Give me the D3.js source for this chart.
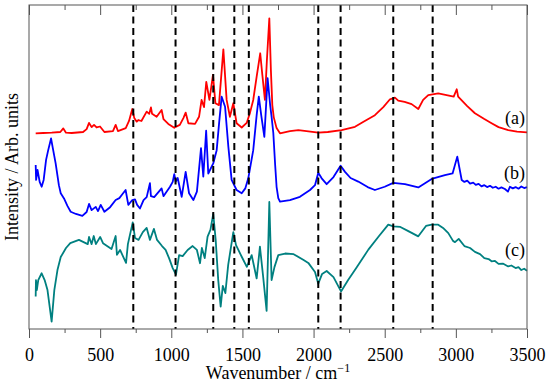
<!DOCTYPE html>
<html>
<head>
<meta charset="utf-8">
<script src="https://cdn.jsdelivr.net/npm/d3@7"></script>
<style>
body { margin: 0; background: #fff; }
</style>
</head>
<body>
<div id="chart"></div>
<script>
// spectra: [wavenumber, intensity (arb.)]
var specA = [
  [47,60.4],[100,60.5],[160,60.6],[220,60.8],[241,61.9],[260,60.6],[300,60.5],[380,60.8],
  [405,61.7],[422,63.6],[440,62.3],[457,63.0],[475,62.2],[499,62.5],[530,60.8],[590,61.1],
  [609,63.0],[625,61.1],[680,62.0],[703,64.2],[726,67.9],[740,65.1],[757,64.0],[768,64.5],
  [790,64.2],[827,67.1],[845,66.4],[857,68.4],[865,66.4],[897,65.5],[932,67.6],[945,64.8],
  [979,63.3],[1021,62.1],[1031,62.4],[1060,63.0],[1085,65.1],[1101,66.8],[1120,63.5],
  [1167,63.3],[1195,65.5],[1213,70.7],[1230,68.5],[1246,76.3],[1268,70.7],[1293,78.4],
  [1310,69.7],[1335,69.1],[1366,86.3],[1389,70.7],[1412,65.5],[1436,69.7],[1459,63.5],
  [1495,62.2],[1530,63.6],[1553,66.7],[1576,70.7],[1600,77.9],[1625,85.1],[1640,78.4],
  [1658,70.7],[1672,83.0],[1689,95.9],[1700,79.9],[1710,69.1],[1720,65.4],[1740,62.0],
  [1764,60.4],[1834,61.1],[1893,61.4],[1950,61.1],[2033,60.6],[2100,60.8],[2197,61.4],
  [2291,62.4],[2360,64.2],[2431,66.0],[2490,68.5],[2537,70.9],[2572,71.4],[2595,70.5],
  [2640,70.1],[2689,69.4],[2736,67.9],[2770,70.7],[2806,72.2],[2876,72.7],[2935,72.2],
  [2985,71.7],[3006,74.0],[3016,71.7],[3080,68.8],[3134,66.6],[3200,64.8],[3251,63.5],
  [3300,62.3],[3368,61.4],[3430,60.9],[3500,60.7]
];

var specB = [
  [47,50.6],[50,46.0],[60,49.1],[75,45.4],[89,43.9],[103,46.0],[120,52.2],[135,55.2],
  [155,58.8],[170,55.2],[187,51.2],[210,44.4],[223,41.9],[246,40.3],[270,38.0],[293,36.2],
  [330,35.5],[375,34.9],[405,36.1],[422,38.6],[440,36.7],[469,37.7],[485,36.4],[504,38.3],
  [530,36.2],[570,37.6],[609,39.8],[635,40.4],[656,41.6],[679,42.9],[698,38.3],[726,39.8],
  [745,40.0],[760,38.3],[780,37.2],[805,39.8],[827,40.7],[850,45.0],[857,41.0],[880,40.7],
  [932,43.4],[945,41.0],[991,43.9],[1010,45.4],[1021,47.8],[1031,45.5],[1045,46.6],
  [1073,40.8],[1101,48.5],[1125,41.9],[1155,39.8],[1180,42.4],[1209,55.8],[1225,47.0],
  [1245,61.2],[1260,48.0],[1295,51.1],[1319,55.2],[1337,64.0],[1354,71.7],[1378,68.6],
  [1401,56.3],[1424,46.0],[1459,42.9],[1495,41.9],[1520,43.4],[1541,46.5],[1576,55.2],
  [1600,66.0],[1615,71.7],[1632,66.0],[1654,59.3],[1677,77.4],[1695,69.1],[1705,65.5],
  [1717,60.5],[1730,50.6],[1740,43.9],[1752,40.4],[1764,39.3],[1834,39.8],[1904,40.8],
  [1975,42.9],[2010,44.4],[2033,48.2],[2057,46.5],[2092,44.7],[2140,46.9],[2190,50.4],
  [2221,48.5],[2260,46.6],[2314,45.5],[2380,43.8],[2431,42.9],[2500,43.9],[2560,45.1],
  [2642,44.7],[2736,43.7],[2830,46.3],[2923,47.5],[2977,48.0],[3010,53.2],[3041,46.0],
  [3060,45.4],[3080,45.8],[3100,44.9],[3122,45.2],[3140,44.5],[3160,44.8],[3180,44.0],
  [3200,44.4],[3220,43.8],[3240,44.2],[3260,43.6],[3280,43.9],[3300,43.3],[3320,43.7],
  [3345,43.2],[3366,42.4],[3380,43.9],[3400,43.4],[3420,43.8],[3440,43.3],[3460,44.0],
  [3480,43.5],[3500,43.8]
];

var specC = [
  [47,10.0],[49,15.1],[55,12.0],[65,15.1],[89,17.2],[110,15.1],[130,12.0],[159,2.3],
  [178,12.0],[200,18.2],[223,22.2],[260,25.0],[290,26.5],[351,27.5],[413,26.2],[422,28.4],
  [440,26.2],[455,28.7],[470,26.2],[500,28.4],[520,26.5],[580,24.7],[609,28.7],[618,22.9],
  [640,24.4],[660,22.5],[682,20.4],[695,26.2],[729,32.9],[745,28.1],[770,27.5],[800,29.9],
  [827,31.2],[850,27.5],[878,30.9],[900,27.5],[935,25.6],[960,24.4],[985,21.8],[1010,18.8],
  [1033,16.8],[1055,22.8],[1080,22.5],[1115,24.4],[1150,25.6],[1180,24.4],[1202,20.3],
  [1215,25.0],[1235,21.9],[1255,28.5],[1275,30.6],[1295,35.5],[1312,27.5],[1330,15.1],
  [1347,6.9],[1362,13.3],[1380,11.1],[1400,19.8],[1436,29.9],[1455,25.9],[1495,22.3],
  [1531,19.2],[1565,22.8],[1600,15.6],[1623,25.4],[1645,16.4],[1670,5.6],[1689,39.2],
  [1705,15.1],[1725,19.1],[1752,22.8],[1800,23.3],[1860,23.1],[1930,21.3],[1963,20.4],
  [2010,17.6],[2033,14.0],[2060,17.0],[2092,17.9],[2140,16.0],[2193,11.6],[2244,15.2],
  [2300,18.8],[2385,24.5],[2460,28.7],[2525,32.2],[2560,31.7],[2610,31.5],[2666,30.2],
  [2736,28.6],[2790,31.8],[2830,32.2],[2876,32.2],[2910,31.2],[2947,29.6],[2980,27.2],
  [2994,26.8],[3020,27.8],[3060,25.6],[3100,25.0],[3134,23.8],[3170,23.1],[3200,21.9],
  [3230,21.6],[3251,20.9],[3275,21.0],[3300,20.1],[3330,20.2],[3368,19.3],[3390,19.6],
  [3420,18.8],[3440,19.1],[3460,18.2],[3480,18.6],[3500,18.0]
];

var seriesNames = ["(a)", "(b)", "(c)"];
var seriesColors = ["#ff0000", "#0000ff", "#008080"];

// marked band positions (dashed lines)
var bands = [733, 1030, 1295, 1443, 1545, 2033, 2190, 2560, 2837];

var majorTicks = [0, 500, 1000, 1500, 2000, 2500, 3000, 3500];
var minorTicks = [250, 750, 1250, 1750, 2250, 2750, 3250];

var serif = "'Liberation Serif', Tinos, 'Times New Roman', serif";

var margin = {top: 5, right: 23, bottom: 57, left: 29},
    width = 550 - margin.left - margin.right,
    height = 386 - margin.top - margin.bottom;

var x = d3.scaleLinear().domain([0, 3500]).range([0, width]);
var y = d3.scaleLinear().domain([0, 100]).range([height, 0]);

var line = d3.line()
    .x(function(d) { return x(d[0]); })
    .y(function(d) { return y(d[1]); });

var svg = d3.select("#chart").append("svg")
    .attr("width", 550)
    .attr("height", 386)
    .append("g")
    .attr("transform", "translate(" + margin.left + "," + margin.top + ")");

var spectra = [specA, specB, specC];

spectra.forEach(function(s, i) {
    svg.append("path")
        .datum(s)
        .attr("fill", "none")
        .attr("stroke", seriesColors[i])
        .attr("stroke-width", 1.8)
        .attr("stroke-linejoin", "round")
        .attr("d", line);
});

// dashed band markers
svg.selectAll(".band")
    .data(bands)
    .enter().append("line")
    .attr("class", "band")
    .attr("x1", function(d) { return x(d); })
    .attr("x2", function(d) { return x(d); })
    .attr("y1", 0)
    .attr("y2", height)
    .attr("stroke", "#000")
    .attr("stroke-width", 2)
    .attr("stroke-dasharray", "7,4.5");

// frame
svg.append("rect")
    .attr("width", width)
    .attr("height", height)
    .attr("fill", "none")
    .attr("stroke", "#555")
    .attr("stroke-width", 1);

// bottom axis, ticks pointing out
var xAxis = svg.append("g")
    .attr("transform", "translate(0," + height + ")")
    .call(d3.axisBottom(x).tickValues(majorTicks).tickSizeInner(9).tickSizeOuter(0).tickPadding(10).tickFormat(d3.format("d")));
svg.append("g")
    .attr("transform", "translate(0," + height + ")")
    .call(d3.axisBottom(x).tickValues(minorTicks).tickSizeInner(4).tickSizeOuter(0).tickFormat(""));

// top axis mirror ticks, pointing in
svg.append("g")
    .call(d3.axisTop(x).tickValues(majorTicks).tickSizeInner(-10).tickSizeOuter(0).tickFormat(""));
svg.append("g")
    .call(d3.axisTop(x).tickValues(minorTicks).tickSizeInner(-5).tickSizeOuter(0).tickFormat(""));

svg.selectAll(".domain").remove();
svg.selectAll(".tick line").attr("stroke", "#555");
xAxis.selectAll("text")
    .attr("fill", "#000")
    .attr("font-family", serif)
    .attr("font-size", 18);

// series labels
var labelOffsets = [8, 8, 15];
spectra.forEach(function(s, i) {
    svg.append("text")
        .attr("x", width - 2)
        .attr("y", y(s[s.length - 1][1]) - labelOffsets[i])
        .attr("text-anchor", "end")
        .attr("font-family", serif)
        .attr("font-size", 18)
        .text(seriesNames[i]);
});

// axis titles
var xt = svg.append("text")
    .attr("x", width / 2)
    .attr("y", height + 50)
    .attr("text-anchor", "middle")
    .attr("font-family", serif)
    .attr("font-size", 18)
    .text("Wavenumber / cm");
xt.append("tspan")
    .attr("dy", -7)
    .attr("font-size", 12)
    .text("\u22121");

svg.append("text")
    .attr("transform", "translate(" + (18 - margin.left) + "," + (height / 2) + ") rotate(-90)")
    .attr("text-anchor", "middle")
    .attr("font-family", serif)
    .attr("font-size", 18)
    .text("Intensity / Arb. units");
</script>
</body>
</html>
